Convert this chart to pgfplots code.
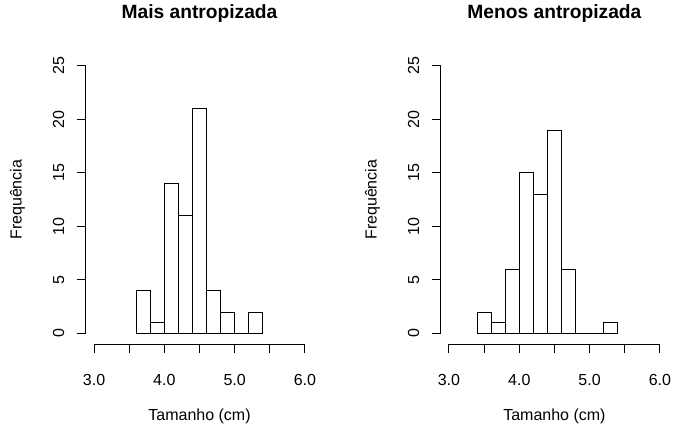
\documentclass[border=0pt]{standalone}
\usepackage{fontspec}
\setmainfont{Liberation Sans}
\usepackage{pgfplots}
\pgfplotsset{compat=1.18}
\begin{document}
\begin{tikzpicture}
\pgfplotsset{
 rstyle/.style={
  scale only axis, width=170.85pt, height=216.7pt,
  xmin=2.88, xmax=6.12, ymin=-1, ymax=26,
  axis lines*=left, axis line style={draw=none},
  clip=false,
  tick align=outside, major tick length=6.75pt,
  tick style={black, line width=0.75pt},
  xtick={3,3.5,4,4.5,5,5.5,6}, xticklabels={3.0,,4.0,,5.0,,6.0},
  ytick={0,5,10,15,20,25}, yticklabels={0,5,10,15,20,25},
  /pgf/number format/assume math mode=true,
  tick label style={font=\fontsize{12}{14}\selectfont},
  xticklabel style={anchor=north, inner sep=0pt},
  yticklabel style={rotate=90, anchor=south, inner sep=0pt},
  xticklabel shift=15.75pt, yticklabel shift=9pt,
  every axis title/.style={at={(axis description cs:0.5,1.1256)}, anchor=base, font=\fontsize{14.4}{17}\selectfont\bfseries},
  every axis x label/.style={at={(axis description cs:0.5,-0.2658)}, anchor=base, font=\fontsize{12}{14}\selectfont},
  every axis y label/.style={at={(axis description cs:-0.2805,0.5)}, rotate=90, anchor=base, font=\fontsize{12}{14}\selectfont},
  xlabel={Tamanho (cm)}, ylabel={Frequência},
 }
}
\path[use as bounding box] (0,0) rectangle (507pt,322.5pt);
\begin{axis}[rstyle, at={(64.2pt,64.35pt)}, anchor=south west, title={Mais antropizada}]
\addplot[ybar interval, fill=white, draw=black, line width=0.75pt] coordinates {(3.6,4) (3.8,1) (4.0,14) (4.2,11) (4.4,21) (4.6,4) (4.8,2) (5.0,0) (5.2,2) (5.4,0)};
\draw[line width=0.75pt] (axis cs:3,-1) -- (axis cs:6,-1);
\draw[line width=0.75pt] (axis cs:2.88,0) -- (axis cs:2.88,25);
\end{axis}
\begin{axis}[rstyle, at={(330.4pt,64.35pt)}, anchor=south west, title={Menos antropizada}]
\addplot[ybar interval, fill=white, draw=black, line width=0.75pt] coordinates {(3.4,2) (3.6,1) (3.8,6) (4.0,15) (4.2,13) (4.4,19) (4.6,6) (4.8,0) (5.0,0) (5.2,1) (5.4,0)};
\draw[line width=0.75pt] (axis cs:3,-1) -- (axis cs:6,-1);
\draw[line width=0.75pt] (axis cs:2.88,0) -- (axis cs:2.88,25);
\end{axis}
\end{tikzpicture}
\end{document}
